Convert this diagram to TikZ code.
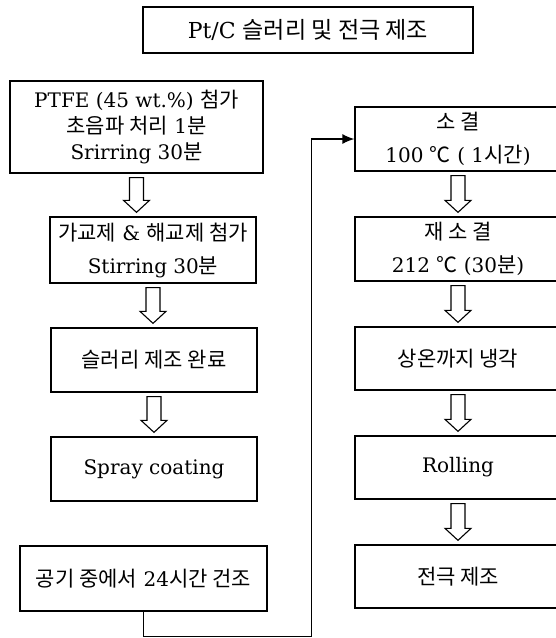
\documentclass[tikz,border=0pt]{standalone}
\usepackage{fontspec}
\setmainfont{DejaVu Serif}
\newfontfamily\kr[Scale=1.05]{Noto Sans CJK KR}
\usetikzlibrary{calc,arrows.meta}
\tikzset{
  x=1pt,y=-1pt,
  box/.style={draw,line width=1.3pt,rectangle,inner sep=0pt,align=center,
    font=\fontsize{20}{26}\selectfont},
  twoline/.style={font=\fontsize{20}{33}\selectfont},
  blockarr/.style={draw,line width=1.1pt,fill=white,line join=miter},
  link/.style={draw,line width=1.3pt}
}
\newcommand\blockarrow[2]{%
  \path[blockarr] let \p1=($(#1.south)+(0,4)$), \p2=($(#2.north)+(0,-4)$) in
   (\x1-7pt,\y1) -- (\x1+7pt,\y1) -- (\x1+7pt,\y2+12pt) -- (\x1+13pt,\y2+12pt)
   -- (\x1,\y2) -- (\x1-13pt,\y2+12pt) -- (\x1-7pt,\y2+12pt) -- cycle;}
\begin{document}
\begin{tikzpicture}
\useasboundingbox (0,0) rectangle (556,638);
\clip (0,0) rectangle (556,638);
% title
\node[box,font=\fontsize{22}{26}\selectfont,minimum width=330pt,minimum height=46pt] (title) at (308,30) {Pt/C {\kr 슬러리 및 전극 제조}};
% left column
\node[box,minimum width=253pt,minimum height=92pt] (b1) at (136.5,127)
  {PTFE (45 wt.\%) {\kr 첨가}\\{\kr 초음파 처리} 1{\kr 분}\\Srirring 30{\kr 분}};
\node[box,twoline,minimum width=206pt,minimum height=66pt] (b2) at (153,250)
  {{\kr 가교제} \& {\kr 해교제 첨가}\\Stirring 30{\kr 분}};
\node[box,minimum width=206pt,minimum height=64pt] (b3) at (154,360) {{\kr 슬러리 제조 완료}};
\node[box,minimum width=206pt,minimum height=64pt] (b4) at (154,469) {Spray coating};
\node[box,minimum width=247pt,minimum height=65pt] (b5) at (143.5,578.5) {{\kr 공기 중에서} 24{\kr 시간 건조}};
% right column
\node[box,twoline,minimum width=206pt,minimum height=64pt] (r1) at (458,139)
  {{\kr 소 결}\\100 {\kr ℃} ( 1{\kr 시간})};
\node[box,twoline,minimum width=206pt,minimum height=64pt] (r2) at (458,249)
  {{\kr 재 소 결}\\212 {\kr ℃} (30{\kr 분})};
\node[box,minimum width=206pt,minimum height=63pt] (r3) at (458,358.5) {{\kr 상온까지 냉각}};
\node[box,minimum width=206pt,minimum height=63pt] (r4) at (458,467.5) {Rolling};
\node[box,minimum width=206pt,minimum height=63pt] (r5) at (458,576.5) {{\kr 전극 제조}};
% block arrows
\blockarrow{b1}{b2}
\blockarrow{b2}{b3}
\blockarrow{b3}{b4}
\blockarrow{r1}{r2}
\blockarrow{r2}{r3}
\blockarrow{r3}{r4}
\blockarrow{r4}{r5}
% connector
\coordinate (turn) at ($(r1.west)+(-43,0)$);
\draw[link,-{Latex[length=12pt,width=10pt]}] (b5.south) -- ++(0,25) -| (turn) -- (r1.west);
\end{tikzpicture}
\end{document}
